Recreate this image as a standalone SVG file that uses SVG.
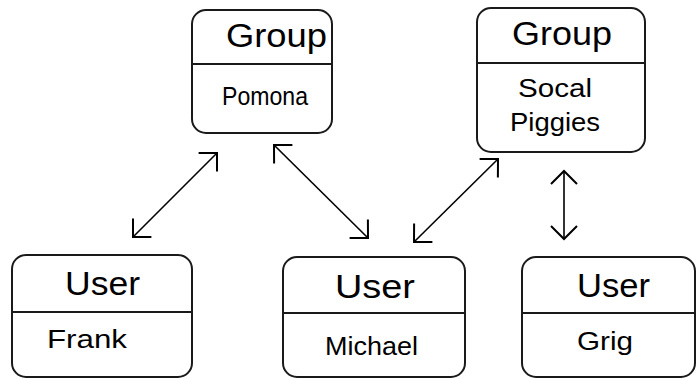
<svg xmlns="http://www.w3.org/2000/svg" width="697" height="379" viewBox="0 0 697 379">
<style>
.box{fill:#fff;stroke:#1a1a1a;stroke-width:2}
.div{stroke:#1a1a1a;stroke-width:2}
.t{font-family:"Liberation Sans",Arial,sans-serif;fill:#000}
.h{font-size:33px}
.v{font-size:26px}
.c{fill:none;stroke:#000;stroke-width:1.6}
</style>
<defs>
<marker id="ah" markerUnits="userSpaceOnUse" markerWidth="34" markerHeight="34" viewBox="-17 -17 34 34" refX="0" refY="0" orient="auto-start-reverse">
<path d="M-13,-13 L0,0 L-13,13" fill="none" stroke="#000" stroke-width="2"/>
</marker>
</defs>
<rect width="697" height="379" fill="#fff"/>
<g id="group-pomona">
<rect class="box" x="192" y="10" width="140" height="123" rx="14"/>
<line class="div" x1="192" y1="64" x2="332" y2="64"/>
<text class="t h" x="226" y="47" textLength="101" lengthAdjust="spacingAndGlyphs">Group</text>
<text class="t v" x="222" y="105" textLength="86" lengthAdjust="spacingAndGlyphs">Pomona</text>
</g>
<g id="group-socal">
<rect class="box" x="477" y="8" width="168" height="144" rx="14"/>
<line class="div" x1="477" y1="63" x2="645" y2="63"/>
<text class="t h" x="512" y="45" textLength="100" lengthAdjust="spacingAndGlyphs">Group</text>
<text class="t v" x="518" y="97" textLength="74" lengthAdjust="spacingAndGlyphs">Socal</text>
<text class="t v" x="510" y="131" textLength="90" lengthAdjust="spacingAndGlyphs">Piggies</text>
</g>
<g id="user-frank">
<rect class="box" x="12" y="255" width="180" height="122" rx="14"/>
<line class="div" x1="12" y1="312" x2="192" y2="312"/>
<text class="t h" x="65" y="295" textLength="75" lengthAdjust="spacingAndGlyphs">User</text>
<text class="t v" x="47" y="348" textLength="80" lengthAdjust="spacingAndGlyphs">Frank</text>
</g>
<g id="user-michael">
<rect class="box" x="283" y="257" width="182" height="120" rx="14"/>
<line class="div" x1="283" y1="313" x2="465" y2="313"/>
<text class="t h" x="335" y="298" textLength="80" lengthAdjust="spacingAndGlyphs">User</text>
<text class="t v" x="325" y="355" textLength="93" lengthAdjust="spacingAndGlyphs">Michael</text>
</g>
<g id="user-grig">
<rect class="box" x="522" y="257" width="173" height="120" rx="14"/>
<line class="div" x1="522" y1="313" x2="695" y2="313"/>
<text class="t h" x="577" y="297" textLength="73" lengthAdjust="spacingAndGlyphs">User</text>
<text class="t v" x="577" y="350" textLength="56" lengthAdjust="spacingAndGlyphs">Grig</text>
</g>
<g id="connectors">
<line class="c" x1="133" y1="237" x2="217" y2="153" marker-start="url(#ah)" marker-end="url(#ah)"/>
<line class="c" x1="274" y1="145" x2="368" y2="238" marker-start="url(#ah)" marker-end="url(#ah)"/>
<line class="c" x1="414" y1="242" x2="498" y2="159" marker-start="url(#ah)" marker-end="url(#ah)"/>
<line class="c" x1="564" y1="171" x2="564" y2="239" marker-start="url(#ah)" marker-end="url(#ah)"/>
</g>
</svg>
